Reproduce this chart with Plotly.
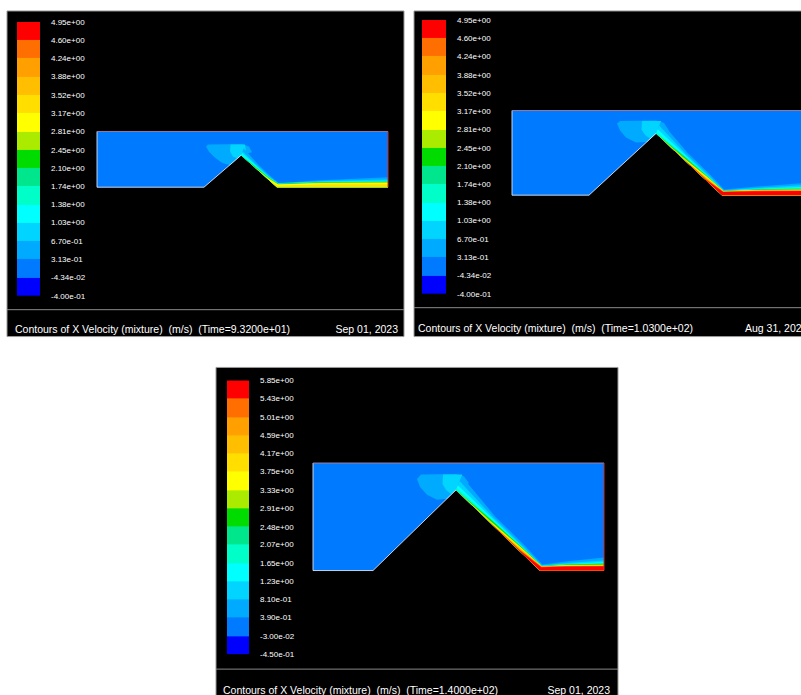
import numpy as np
import plotly.graph_objects as go

W, H = 801, 695          # target picture size (pixels)
FIG_H = 701              # rendered height (viewport is rescaled to H)

# ---------------- data ----------------
band_colors = [
    "rgb(0,0,255)", "rgb(0,122,255)", "rgb(0,170,255)", "rgb(0,212,255)",
    "rgb(0,255,255)", "rgb(0,255,200)", "rgb(0,230,140)", "rgb(0,220,0)",
    "rgb(170,235,0)", "rgb(255,255,0)", "rgb(255,222,0)", "rgb(255,190,0)",
    "rgb(255,160,0)", "rgb(255,110,0)", "rgb(255,0,0)",
]

p1_labels = ["-4.00e-01", "-4.34e-02", "3.13e-01", "6.70e-01", "1.03e+00", "1.38e+00",
             "1.74e+00", "2.10e+00", "2.45e+00", "2.81e+00", "3.17e+00", "3.52e+00",
             "3.88e+00", "4.24e+00", "4.60e+00", "4.95e+00"]
p2_labels = list(p1_labels)
p3_labels = ["-4.50e-01", "-3.00e-02", "3.90e-01", "8.10e-01", "1.23e+00", "1.65e+00",
             "2.07e+00", "2.48e+00", "2.91e+00", "3.33e+00", "3.75e+00", "4.17e+00",
             "4.59e+00", "5.01e+00", "5.43e+00", "5.85e+00"]

p1_caption = "Contours of X Velocity (mixture) \u00a0(m/s) \u00a0(Time=9.3200e+01)"
p2_caption = "Contours of X Velocity (mixture) \u00a0(m/s) \u00a0(Time=1.0300e+02)"
p3_caption = "Contours of X Velocity (mixture) \u00a0(m/s) \u00a0(Time=1.4000e+02)"
p1_date, p2_date, p3_date = "Sep 01, 2023", "Aug 31, 2023", "Sep 01, 2023"

# bed profile (m): inlet, upstream toe, crest, downstream toe, outlet
p1_bed_x = [0.0, 10.7, 14.4, 18.0, 29.1]
p1_bed_y = [0.0, 0.0, 3.2, 0.0, 0.0]
p1_depth = 5.6
p2_bed_x = [0.0, 7.7, 14.4, 21.0, 29.1]
p2_bed_y = [0.0, 0.0, 6.2, 0.0, 0.0]
p2_depth = 8.5
p3_bed_x = [0.0, 6.0, 14.3, 22.7, 29.1]
p3_bed_y = [0.0, 0.0, 8.1, 0.0, 0.0]
p3_depth = 10.8

# low-velocity zone upstream of the crest (band 2) and inner zone (band 3)
p1_zone_x = [13.3, 12.5, 11.8, 11.2, 10.9, 11.1, 14.5, 15.2, 15.5, 14.4]
p1_zone_y = [2.2, 2.45, 2.95, 3.55, 4.1, 4.3, 4.35, 4.1, 3.5, 3.2]
p1_inner_x = [13.35, 13.3, 13.6, 14.0, 14.4, 14.9, 14.8]
p1_inner_y = [4.3, 3.6, 3.05, 2.9, 3.2, 3.6, 4.3]
p2_zone_x = [13.5, 12.4, 11.4, 10.8, 10.5, 10.8, 14.4, 15.2, 15.7, 14.4]
p2_zone_y = [5.35, 5.3, 5.8, 6.5, 7.2, 7.45, 7.5, 7.25, 6.5, 6.2]
p2_inner_x = [13.0, 12.95, 13.3, 13.8, 14.4, 15.0, 14.9]
p2_inner_y = [7.45, 6.6, 6.05, 5.7, 6.2, 6.7, 7.45]
p3_zone_x = [13.4, 12.4, 11.4, 10.7, 10.4, 10.8, 14.3, 15.1, 15.6, 14.3]
p3_zone_y = [7.2, 7.1, 7.6, 8.4, 9.2, 9.65, 9.7, 9.45, 8.8, 8.1]
p3_inner_x = [13.0, 12.95, 13.3, 13.8, 14.3, 15.0, 14.9]
p3_inner_y = [9.65, 8.7, 8.1, 7.7, 8.1, 8.8, 9.65]

# jet layers along downstream face and bed: thickness (m) at
# [crest, upper face, lower face, toe, mid bed, outlet]
p1_bands = [2, 3, 4, 5, 6, 7, 8, 9, 10]
p1_thk = [
    [0.75, 0.45, 0.40, 0.45, 0.70, 1.00],
    [0.45, 0.30, 0.30, 0.42, 0.62, 0.78],
    [0.25, 0.20, 0.22, 0.40, 0.55, 0.65],
    [0.10, 0.15, 0.20, 0.38, 0.52, 0.60],
    [0.00, 0.10, 0.17, 0.37, 0.50, 0.57],
    [0.00, 0.05, 0.15, 0.35, 0.47, 0.53],
    [0.00, 0.02, 0.12, 0.33, 0.45, 0.50],
    [0.00, 0.00, 0.05, 0.30, 0.42, 0.45],
    [0.00, 0.00, 0.00, 0.15, 0.30, 0.30],
]
p2_bands = [2, 3, 4, 5, 6, 7, 8, 9, 10, 11, 12, 13, 14]
p2_thk = [
    [1.30, 0.75, 0.70, 0.60, 0.85, 1.20],
    [0.85, 0.55, 0.55, 0.52, 0.72, 1.00],
    [0.45, 0.42, 0.47, 0.49, 0.64, 0.82],
    [0.15, 0.33, 0.42, 0.47, 0.60, 0.72],
    [0.00, 0.28, 0.39, 0.46, 0.57, 0.66],
    [0.00, 0.23, 0.36, 0.45, 0.55, 0.61],
    [0.00, 0.13, 0.33, 0.44, 0.53, 0.58],
    [0.00, 0.06, 0.30, 0.43, 0.51, 0.55],
    [0.00, 0.00, 0.25, 0.42, 0.49, 0.52],
    [0.00, 0.00, 0.20, 0.41, 0.47, 0.49],
    [0.00, 0.00, 0.15, 0.40, 0.45, 0.47],
    [0.00, 0.00, 0.10, 0.38, 0.43, 0.45],
    [0.00, 0.00, 0.04, 0.34, 0.39, 0.41],
]
p3_bands = [2, 3, 4, 5, 6, 7, 8, 9, 10, 11, 12, 13, 14]
p3_thk = [
    [1.50, 0.80, 0.75, 0.65, 0.90, 1.30],
    [0.95, 0.60, 0.58, 0.55, 0.75, 1.00],
    [0.50, 0.45, 0.50, 0.52, 0.66, 0.85],
    [0.20, 0.36, 0.45, 0.50, 0.62, 0.75],
    [0.00, 0.30, 0.42, 0.48, 0.59, 0.70],
    [0.00, 0.25, 0.39, 0.47, 0.57, 0.65],
    [0.00, 0.15, 0.36, 0.46, 0.55, 0.60],
    [0.00, 0.08, 0.33, 0.45, 0.52, 0.56],
    [0.00, 0.03, 0.28, 0.44, 0.50, 0.53],
    [0.00, 0.00, 0.22, 0.43, 0.48, 0.50],
    [0.00, 0.00, 0.16, 0.42, 0.46, 0.48],
    [0.00, 0.00, 0.10, 0.40, 0.44, 0.46],
    [0.00, 0.00, 0.04, 0.36, 0.40, 0.42],
]

# ---------------- layout (pixels of the target picture) ----------------
panels = [
    dict(frame=(7, 7, 404, 334), sep=307, origin=(97, 184), scale=10.0,
         cbar=(17, 18, 40, 293), cap=(15, 328), date=(398, 328, "right"),
         labels=p1_labels, caption=p1_caption, datetext=p1_date,
         bx=p1_bed_x, by=p1_bed_y, depth=p1_depth,
         zone=(p1_zone_x, p1_zone_y), inner=(p1_inner_x, p1_inner_y),
         bands=p1_bands, thk=p1_thk, rightline=True),
    dict(frame=(414, 7, 803, 334), sep=305, origin=(512, 192), scale=10.0,
         cbar=(422, 16, 446, 291), cap=(418, 327), date=(745, 327, "left"),
         labels=p2_labels, caption=p2_caption, datetext=p2_date,
         bx=p2_bed_x, by=p2_bed_y, depth=p2_depth,
         zone=(p2_zone_x, p2_zone_y), inner=(p2_inner_x, p2_inner_y),
         bands=p2_bands, thk=p2_thk, rightline=False),
    dict(frame=(216, 365, 618, 700), sep=668, origin=(313, 569), scale=10.0,
         cbar=(227, 378, 249, 653), cap=(223, 690), date=(610, 690, "right"),
         labels=p3_labels, caption=p3_caption, datetext=p3_date,
         bx=p3_bed_x, by=p3_bed_y, depth=p3_depth,
         zone=(p3_zone_x, p3_zone_y), inner=(p3_inner_x, p3_inner_y),
         bands=p3_bands, thk=p3_thk, rightline=True),
]

FONT = "Arial, Liberation Sans, sans-serif"


def fx(px):
    return px / W


def fy(py):
    return 1 - py / H


def unit(v):
    return v / np.linalg.norm(v)


def wall_path(bx, by):
    A = np.array([bx[2], by[2]])
    F = np.array([bx[3], by[3]])
    E = np.array([bx[4], by[4]])
    pts = np.array([A, A + 0.4 * (F - A), A + 0.75 * (F - A), F, F + 0.4 * (E - F), E])
    d = unit(F - A)
    ns = np.array([-d[1], d[0]])
    up = np.array([0.0, 1.0])
    nA = unit(ns + up)
    nF = unit(ns + up)
    normals = np.array([nA, ns, ns, nF, up, up])
    return pts, normals


fig = go.Figure()
layout = dict(width=W, height=FIG_H, margin=dict(l=0, r=0, t=0, b=0),
              paper_bgcolor="white", plot_bgcolor="rgba(0,0,0,0)",
              showlegend=False, shapes=[], annotations=[])

ncol = len(band_colors)
cscale = []
for i, c in enumerate(band_colors):
    cscale.append([i / ncol, c])
    cscale.append([(i + 1) / ncol, c])

hidden = dict(visible=False, showgrid=False, zeroline=False, fixedrange=True)

for k, p in enumerate(panels):
    L, T, R, B = p["frame"]
    sep = p["sep"]
    ox, oy = p["origin"]
    s = p["scale"]
    fi = 3 * k + 1
    ci = 3 * k + 2
    ti = 3 * k + 3
    fxn = "x" if fi == 1 else f"x{fi}"
    fyn = "y" if fi == 1 else f"y{fi}"
    cxn, cyn = f"x{ci}", f"y{ci}"
    txn, tyn = f"x{ti}", f"y{ti}"

    # frame
    layout["shapes"].append(dict(type="rect", xref="paper", yref="paper",
                                 x0=fx(L), x1=fx(R), y0=fy(B), y1=fy(T),
                                 fillcolor="black", line=dict(color="#9a9a9a", width=1),
                                 layer="below"))
    layout["shapes"].append(dict(type="line", xref="paper", yref="paper",
                                 x0=fx(L), x1=fx(R), y0=fy(sep), y1=fy(sep),
                                 line=dict(color="#8a8a8a", width=1), layer="below"))

    # flow axes
    x_lo, x_hi = L + 1, min(R - 1, W)
    y_top, y_bot = T + 1, sep - 1
    layout["xaxis" if fi == 1 else f"xaxis{fi}"] = dict(
        hidden, domain=[fx(x_lo), fx(x_hi)],
        range=[(x_lo - ox) / s, (x_hi - ox) / s], anchor=fyn)
    layout["yaxis" if fi == 1 else f"yaxis{fi}"] = dict(
        hidden, domain=[fy(y_bot), fy(y_top)],
        range=[(oy - y_bot) / s, (oy - y_top) / s], anchor=fxn)

    bx, by, depth = p["bx"], p["by"], p["depth"]
    Lx = bx[-1]
    # fluid domain
    dom_x = list(bx) + [Lx, 0.0, bx[0]]
    dom_y = list(by) + [depth, depth, by[0]]
    fig.add_trace(go.Scatter(x=dom_x, y=dom_y, fill="toself", mode="lines",
                             fillcolor=band_colors[1], line=dict(width=0),
                             hoverinfo="skip", xaxis=fxn, yaxis=fyn))
    # crest zones
    zx, zy = p["zone"]
    fig.add_trace(go.Scatter(x=zx, y=zy, fill="toself", mode="lines",
                             fillcolor=band_colors[2], line=dict(width=0),
                             hoverinfo="skip", xaxis=fxn, yaxis=fyn))
    ix, iy = p["inner"]
    fig.add_trace(go.Scatter(x=ix, y=iy, fill="toself", mode="lines",
                             fillcolor=band_colors[3], line=dict(width=0),
                             hoverinfo="skip", xaxis=fxn, yaxis=fyn))
    # jet layers
    wpts, wn = wall_path(bx, by)
    for band, th in zip(p["bands"], p["thk"]):
        th = np.array(th)
        outer = wpts + wn * th[:, None]
        poly = np.vstack([outer, wpts[::-1]])
        fig.add_trace(go.Scatter(x=poly[:, 0], y=poly[:, 1], fill="toself", mode="lines",
                                 fillcolor=band_colors[band], line=dict(width=0),
                                 hoverinfo="skip", xaxis=fxn, yaxis=fyn))
    # boundaries
    fig.add_trace(go.Scatter(x=[0.0, bx[0], bx[1], bx[2]], y=[depth, by[0], by[1], by[2]],
                             mode="lines", line=dict(color="rgba(235,235,245,0.85)", width=1),
                             hoverinfo="skip", xaxis=fxn, yaxis=fyn))
    fig.add_trace(go.Scatter(x=[0.0, Lx], y=[depth, depth], mode="lines",
                             line=dict(color="rgba(170,130,160,0.9)", width=1),
                             hoverinfo="skip", xaxis=fxn, yaxis=fyn))
    if p["rightline"]:
        fig.add_trace(go.Scatter(x=[Lx, Lx], y=[by[-1], depth], mode="lines",
                                 line=dict(color="rgb(220,40,40)", width=1),
                                 hoverinfo="skip", xaxis=fxn, yaxis=fyn))

    # colour bar
    cl, ct, cr, cb = p["cbar"]
    levels = [float(v) for v in p["labels"]]
    fig.add_trace(go.Heatmap(x=[0, 1], y=levels, z=[[i] for i in range(ncol)],
                             colorscale=cscale, zmin=-0.5, zmax=ncol - 0.5,
                             showscale=False, hoverinfo="skip", xaxis=cxn, yaxis=cyn))
    layout[f"xaxis{ci}"] = dict(hidden, domain=[fx(cl), fx(cr)], range=[0, 1], anchor=cyn)
    layout[f"yaxis{ci}"] = dict(
        showgrid=False, zeroline=False, fixedrange=True, showline=False,
        domain=[fy(cb), fy(ct)], range=[levels[0], levels[-1]], anchor=cxn,
        side="right", tickmode="array", tickvals=levels, ticktext=p["labels"],
        ticks="", ticklabelstandoff=10,
        tickfont=dict(family=FONT, size=8, color="white"))

    # caption bar (pixel axis spanning the bar)
    layout[f"xaxis{ti}"] = dict(hidden, domain=[0, 1], range=[0, W], anchor=tyn)
    layout[f"yaxis{ti}"] = dict(hidden, domain=[fy(min(B, H)), fy(sep)],
                                range=[min(B, H), sep], anchor=txn)
    cx, cyy = p["cap"]
    dx, dy, anc = p["date"]
    fig.add_trace(go.Scatter(x=[cx], y=[cyy], mode="text", text=[p["caption"]],
                             textposition="middle right", cliponaxis=False,
                             textfont=dict(family=FONT, size=10.5, color="white"),
                             hoverinfo="skip", xaxis=txn, yaxis=tyn))
    fig.add_trace(go.Scatter(x=[dx], y=[dy], mode="text", text=[p["datetext"]],
                             textposition="middle right" if anc == "left" else "middle left",
                             cliponaxis=False,
                             textfont=dict(family=FONT, size=10.5, color="white"),
                             hoverinfo="skip", xaxis=txn, yaxis=tyn))

fig.update_layout(**layout)
page_fix = (
    "var de=document.documentElement, b=document.body;"
    "de.style.margin='0';de.style.padding='0';de.style.overflow='hidden';"
    "b.style.margin='0';b.style.padding='0';b.style.overflow='hidden';"
    "var g=document.getElementsByClassName('plotly-graph-div')[0];"
    "g.style.position='absolute';g.style.left='0px';g.style.top='0px';"
)
fig.write_html("out.html", config={"displayModeBar": False}, post_script=page_fix)
